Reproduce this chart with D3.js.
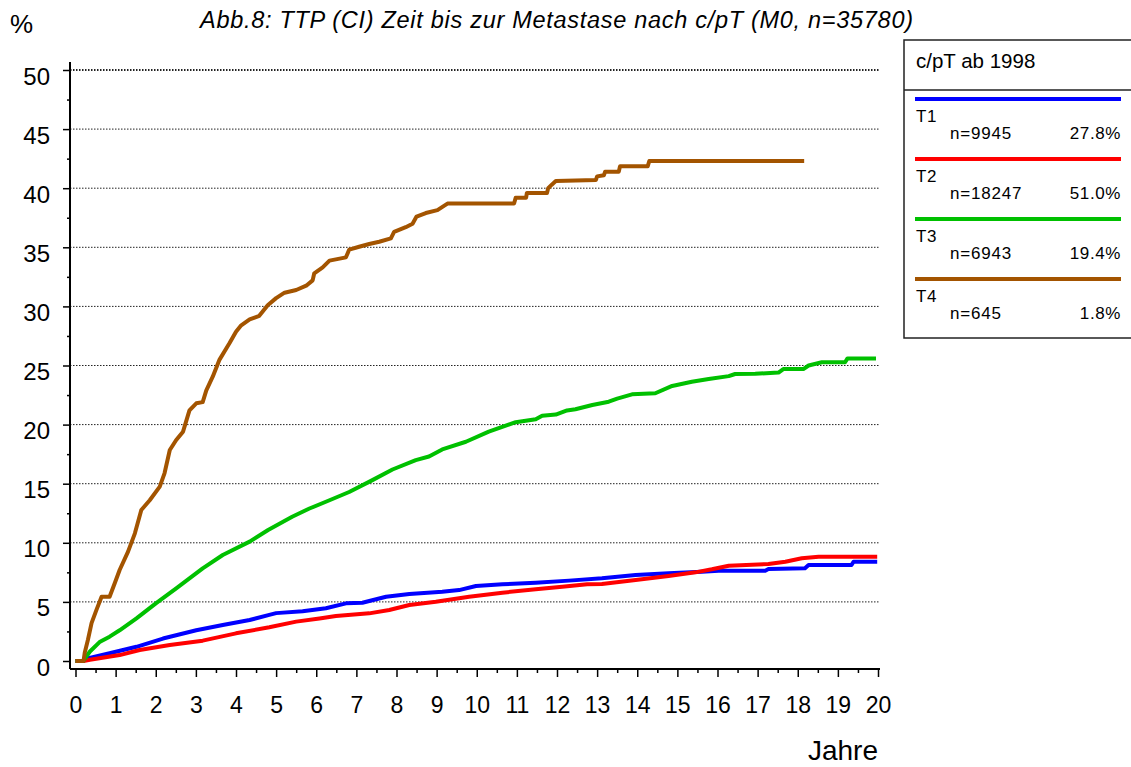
<!DOCTYPE html>
<html>
<head>
<meta charset="utf-8">
<script src="https://cdn.jsdelivr.net/npm/d3@7"></script>
<style>
  html, body { margin: 0; padding: 0; background: #fff; }
  svg { display: block; font-family: "Liberation Sans", Arial, sans-serif; }
</style>
</head>
<body>
<svg id="chart" width="1131" height="767"></svg>
<script>
// ---------- data ----------
const titleText = "Abb.8: TTP (CI) Zeit bis zur Metastase nach c/pT (M0, n=35780)";
const legendTitle = "c/pT ab 1998";
const seriesNames = ["T1", "T2", "T3", "T4"];
const seriesN = ["n=9945", "n=18247", "n=6943", "n=645"];
const seriesPct = ["27.8%", "51.0%", "19.4%", "1.8%"];
const seriesColors = ["#0000ff", "#ff0000", "#00c000", "#a35400"];
const xTicks = d3.range(0, 21);
const yTicks = [0, 5, 10, 15, 20, 25, 30, 35, 40, 45, 50];

const t1 = [[0,0],[0.2,0],[0.27,0.2],[0.85,0.65],[1.52,1.2],[2.18,1.9],[3.01,2.6],[3.67,3.05],[4.34,3.47],[4.83,3.9],[5.0,4.05],[5.66,4.2],[6.24,4.46],[6.74,4.88],[7.15,4.93],[7.74,5.44],[8.32,5.67],[9.14,5.86],[9.56,6.0],[9.98,6.35],[10.64,6.49],[11.47,6.62],[12.3,6.8],[13.12,7.0],[13.96,7.28],[14.78,7.42],[15.61,7.56],[16.03,7.64],[17.19,7.64],[17.27,7.78],[18.18,7.84],[18.27,8.12],[19.34,8.12],[19.39,8.4],[19.98,8.4]];
const t2 = [[0,0],[0.2,0],[0.36,0.1],[1.1,0.5],[1.6,0.93],[2.35,1.35],[3.17,1.72],[4.0,2.34],[4.83,2.85],[5.5,3.33],[6.08,3.6],[6.49,3.8],[7.32,4.03],[7.82,4.31],[8.32,4.74],[8.98,5.02],[9.81,5.44],[10.64,5.78],[11.47,6.07],[12.13,6.29],[12.75,6.49],[13.12,6.52],[13.96,6.85],[14.78,7.19],[15.45,7.5],[15.86,7.76],[16.28,8.06],[17.27,8.2],[17.69,8.4],[18.1,8.69],[18.52,8.82],[19.98,8.82]];
const t3 = [[0,0],[0.19,0],[0.36,0.8],[0.6,1.6],[0.85,2.06],[1.1,2.6],[1.52,3.6],[2.01,4.9],[2.51,6.15],[3.17,7.84],[3.67,8.97],[4.34,10.1],[4.8,11.08],[5.4,12.2],[5.83,12.9],[6.33,13.6],[6.82,14.3],[7.4,15.3],[7.9,16.2],[8.48,17.0],[8.81,17.3],[9.14,17.9],[9.73,18.55],[10.3,19.4],[10.97,20.2],[11.47,20.45],[11.63,20.75],[11.97,20.85],[12.25,21.2],[12.46,21.3],[12.88,21.66],[13.29,21.94],[13.5,22.2],[13.87,22.56],[14.45,22.65],[14.87,23.27],[15.36,23.63],[15.78,23.86],[16.28,24.1],[16.44,24.28],[16.94,24.3],[17.52,24.4],[17.64,24.7],[18.14,24.7],[18.27,25.0],[18.6,25.27],[19.18,25.27],[19.24,25.6],[19.95,25.6]];
const t4 = [[0,0],[0.2,0],[0.23,0.7],[0.31,1.8],[0.4,3.2],[0.52,4.3],[0.65,5.44],[0.85,5.44],[0.98,6.6],[1.1,7.7],[1.31,9.25],[1.48,10.8],[1.64,12.78],[1.85,13.6],[2.1,14.75],[2.22,15.9],[2.35,17.85],[2.51,18.7],[2.68,19.4],[2.84,21.2],[3.01,21.8],[3.17,21.9],[3.26,22.9],[3.42,24.05],[3.59,25.5],[3.84,26.9],[4.0,27.86],[4.13,28.4],[4.34,28.9],[4.58,29.2],[4.79,30.1],[5.0,30.7],[5.21,31.16],[5.5,31.39],[5.75,31.75],[5.91,32.2],[5.95,32.8],[6.16,33.3],[6.33,33.87],[6.74,34.15],[6.82,34.8],[7.07,35.05],[7.32,35.28],[7.57,35.47],[7.86,35.76],[7.94,36.3],[8.23,36.7],[8.4,37.0],[8.5,37.6],[8.73,37.9],[9.02,38.15],[9.27,38.7],[10.93,38.7],[10.97,39.2],[11.23,39.2],[11.25,39.6],[11.75,39.6],[11.78,40.0],[11.87,40.3],[11.97,40.6],[12.97,40.7],[13.0,41.0],[13.17,41.1],[13.2,41.4],[13.54,41.4],[13.57,41.85],[14.26,41.85],[14.3,42.3],[18.16,42.3]];
const seriesData = [t1, t2, t3, t4];

// ---------- layout ----------
const svg = d3.select("#chart");
const x = d3.scaleLinear().domain([0, 20]).range([75.5, 878]);
const y = d3.scaleLinear().domain([0, 50]).range([661, 70]);
const axisX = 70, axisY = 669;

// grid
svg.append("g").selectAll("line")
  .data(yTicks.filter(d => d > 0))
  .join("line")
  .attr("x1", axisX).attr("x2", 880)
  .attr("y1", d => y(d)).attr("y2", d => y(d))
  .attr("stroke", "#222")
  .attr("stroke-width", d => d === 50 ? 2 : 1)
  .attr("stroke-dasharray", "1.5,1.5");

// y axis major
const yAxis = svg.append("g").attr("transform", `translate(${axisX},0)`)
  .call(d3.axisLeft(y).tickValues(yTicks).tickSize(7).tickPadding(13));
yAxis.select(".domain").remove();
yAxis.selectAll("line").attr("stroke", "#000").attr("stroke-width", 1.5);
yAxis.selectAll("text").attr("font-size", 24).attr("dy", 14)
  .attr("font-family", "Liberation Sans, Arial, sans-serif").attr("fill", "#000");
// y axis minor
const yMinor = svg.append("g").attr("transform", `translate(${axisX},0)`)
  .call(d3.axisLeft(y).tickValues(d3.range(2.5, 50, 5)).tickSize(3).tickFormat(""));
yMinor.select(".domain").remove();
yMinor.selectAll("line").attr("stroke", "#000").attr("stroke-width", 1.5);

// x axis major
const xAxis = svg.append("g").attr("transform", `translate(0,${axisY})`)
  .call(d3.axisBottom(x).tickValues(xTicks).tickSize(8).tickFormat(d3.format("d")));
xAxis.select(".domain").remove();
xAxis.selectAll("line").attr("stroke", "#000").attr("stroke-width", 1.5);
xAxis.selectAll("text").attr("font-size", 23).attr("y", 44).attr("dy", 0)
  .attr("font-family", "Liberation Sans, Arial, sans-serif").attr("fill", "#000");
const xMinor = svg.append("g").attr("transform", `translate(0,${axisY})`)
  .call(d3.axisBottom(x).tickValues(d3.range(0.5, 20, 1)).tickSize(4).tickFormat(""));
xMinor.select(".domain").remove();
xMinor.selectAll("line").attr("stroke", "#000").attr("stroke-width", 1.5);

// axis lines
svg.append("line").attr("x1", axisX).attr("x2", axisX).attr("y1", 62).attr("y2", axisY)
  .attr("stroke", "#000").attr("stroke-width", 2);
svg.append("line").attr("x1", axisX).attr("x2", 880).attr("y1", axisY).attr("y2", axisY)
  .attr("stroke", "#000").attr("stroke-width", 2);

// curves
const line = d3.line().x(d => x(d[0])).y(d => y(d[1]));
svg.append("g").selectAll("path")
  .data(seriesData)
  .join("path")
  .attr("d", line)
  .attr("fill", "none")
  .attr("stroke", (d, i) => seriesColors[i])
  .attr("stroke-width", 4)
  .attr("stroke-linejoin", "round");

// texts
svg.append("text").attr("x", 10).attr("y", 33).attr("font-size", 26).text("%");
svg.append("text").attr("x", 200).attr("y", 28).attr("font-size", 23.5)
  .attr("font-style", "italic").attr("textLength", 713).attr("lengthAdjust", "spacing")
  .text(titleText);
svg.append("text").attr("x", 878).attr("y", 760).attr("font-size", 28)
  .attr("text-anchor", "end").text("Jahre");

// legend
const lg = svg.append("g");
lg.append("rect").attr("x", 904).attr("y", 40).attr("width", 240).attr("height", 298)
  .attr("fill", "#fff").attr("stroke", "#222").attr("stroke-width", 1.5);
lg.append("line").attr("x1", 904).attr("x2", 1140).attr("y1", 90).attr("y2", 90)
  .attr("stroke", "#222").attr("stroke-width", 1.5);
lg.append("text").attr("x", 916).attr("y", 68).attr("font-size", 20.5).text(legendTitle);
const items = lg.selectAll("g.item").data(seriesNames).join("g")
  .attr("class", "item")
  .attr("transform", (d, i) => `translate(0,${i * 60})`);
items.append("line").attr("x1", 915).attr("x2", 1121).attr("y1", 99).attr("y2", 99)
  .attr("stroke", (d, i) => seriesColors[i]).attr("stroke-width", 4);
items.append("text").attr("x", 916).attr("y", 122).attr("font-size", 17)
  .attr("letter-spacing", 0.5).text(d => d);
items.append("text").attr("x", 950).attr("y", 139).attr("font-size", 17)
  .attr("letter-spacing", 0.8).text((d, i) => seriesN[i]);
items.append("text").attr("x", 1121).attr("y", 139).attr("font-size", 17)
  .attr("text-anchor", "end").attr("letter-spacing", 0.6).text((d, i) => seriesPct[i]);
</script>
</body>
</html>
